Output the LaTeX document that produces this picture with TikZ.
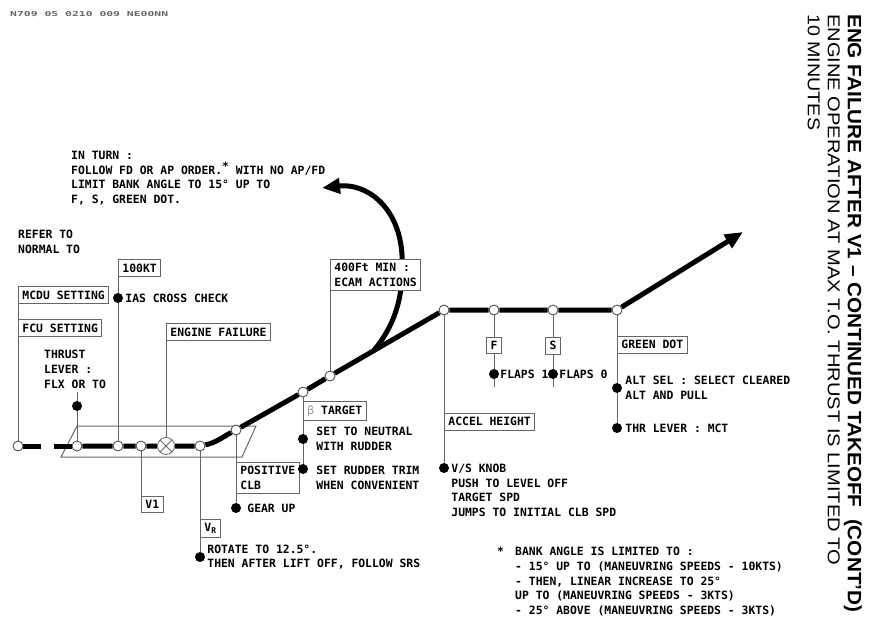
\documentclass[tikz,border=0pt]{standalone}
\usepackage{fontspec}
\setmonofont{DejaVu Sans Mono}
\setsansfont{Liberation Sans}
\usetikzlibrary{arrows.meta,positioning,backgrounds,calc}
\newcommand\fcom{\ttfamily\bfseries\fontsize{11.4}{14.7}\selectfont}

\begin{document}
\begin{tikzpicture}[x=1pt,y=-1pt,font=\fcom,
  wp/.style={circle,draw=black!75,fill=white,line width=0.8pt,inner sep=0,minimum size=10pt},
  bul/.style={circle,fill=black,inner sep=0,minimum size=10pt},
  b/.style={draw=black!60,fill=white,line width=0.9pt,inner xsep=4pt,inner ysep=4pt,align=left},
  tx/.style={inner sep=0,align=left},
  ld/.style={draw=black!60,line width=1pt},
  trk/.style={line width=5pt},
  arr/.style={-{Triangle[length=18pt,width=15pt]}}]
\useasboundingbox (0,0) rectangle (869,617);
% points on the flight path
\foreach \n/\x/\y in {c0/18/446,c1/77/446,c2/118/446,c3/141/446,c4/200/446,
  c5/236/430,c6/303/392,c7/330/376,c8/444/310,c9/494/310,c10/553/310,c11/617/310}
  \node[wp] (\n) at (\x,\y) {};
\node[wp,minimum size=17pt,draw=black!60,path picture={
  \draw[black!60] (path picture bounding box.north west)--(path picture bounding box.south east)
    (path picture bounding box.south west)--(path picture bounding box.north east);}] (ef) at (166,446) {};
\coordinate (end) at (743,232);
\coordinate (ttip) at (322,188);
\coordinate (tb) at ($(c7)!0.38!(c8)$);
% labels in boxes
\node[b,anchor=south west] (mcdu) at (18,304) {MCDU SETTING};
\node[b,anchor=south west] (fcu) at (18,337) {FCU SETTING};
\node[b,anchor=south west] (kt) at (118,277) {100KT};
\node[b,anchor=north west] (v1) at (141,496) {V1};
\node[b,anchor=south west] (efb) at (166,341) {ENGINE FAILURE};
\node[b,anchor=north west] (vr) at (200,519) {V\textsubscript{R}};
\node[b,anchor=north west] (clb) at (236,462) {POSITIVE\\CLB};
\node[b,anchor=north west] (beta) at (303,401) {{\mdseries\color{black!40}β} TARGET};
\node[b,anchor=south west] (ecam) at (330,291) {400Ft MIN :\\ECAM ACTIONS};
\node[b,anchor=north west] (accel) at (444,413) {ACCEL HEIGHT};
\node[b,anchor=north] (fbox) at (494,337) {F};
\node[b,anchor=north] (sbox) at (553,337) {S};
\node[b,anchor=north west] (gd) at (617,336) {GREEN DOT};
% action dots
\node[bul] (dthr) at (77,406) {};
\node[bul] (dias) at (118,298) {};
\node[bul] (drot) at (200,557) {};
\node[bul] (dgear) at (236,508) {};
\node[bul] (dneu) at (303,439) {};
\node[bul] (dtrim) at (303,469) {};
\node[bul] (dvs) at (444,468) {};
\node[bul] (df) at (494,374) {};
\node[bul] (ds) at (553,374) {};
\node[bul] (dalt) at (617,388) {};
\node[bul] (dthrl) at (617,428) {};
% texts
\node[tx,anchor=west,text=black!60] (hdr) at (10,14) {\resizebox{158pt}{5pt}{N709 05 0210 009 NE00NN}};
\node[tx,anchor=north west] (turn) at (71,151) {IN TURN :\\FOLLOW FD OR AP ORDER.\raisebox{4pt}{*} WITH NO AP/FD\\LIMIT BANK ANGLE TO 15° UP TO\\F, S, GREEN DOT.};
\node[tx,anchor=north west] (refer) at (18,230) {REFER TO\\NORMAL TO};
\node[tx,anchor=north west] (thr) at (44,350) {THRUST\\LEVER :\\FLX OR TO};
\node[tx,right=2pt of dias] {IAS CROSS CHECK};
\node[tx,right=2pt of drot] {ROTATE TO 12.5°.\\THEN AFTER LIFT OFF, FOLLOW SRS};
\node[tx,right=6pt of dgear] {GEAR UP};
\node[tx,right=8pt of dneu] {SET TO NEUTRAL\\WITH RUDDER};
\node[tx,anchor=north west] at ([xshift=8pt,yshift=3.2pt]dtrim.east) {SET RUDDER TRIM\\WHEN CONVENIENT};
\node[tx,anchor=north west] at ([xshift=2pt,yshift=4.2pt]dvs.east) {V/S KNOB\\PUSH TO LEVEL OFF\\TARGET SPD\\JUMPS TO INITIAL CLB SPD};
\node[tx,right=1pt of df] {FLAPS 1};
\node[tx,right=1pt of ds] {FLAPS 0};
\node[tx,right=3pt of dalt] {ALT SEL : SELECT CLEARED\\ALT AND PULL};
\node[tx,right=3pt of dthrl] {THR LEVER : MCT};
\node[tx,anchor=west] (star) at (497,551) {*};
\node[tx,anchor=north west] (bank) at (515,547) {BANK ANGLE IS LIMITED TO :\\- 15° UP TO (MANEUVRING SPEEDS - 10KTS)\\- THEN, LINEAR INCREASE TO 25°\\UP TO (MANEUVRING SPEEDS - 3KTS)\\- 25° ABOVE (MANEUVRING SPEEDS - 3KTS)};
% title
\node[tx,rotate=-90,anchor=north west] (ttl) at (862,14) {\resizebox{598pt}{14pt}{\sffamily\bfseries ENG FAILURE AFTER V1 – CONTINUED TAKEOFF\ \ (CONT'D)}};
\node[tx,rotate=-90,anchor=north west] (sub1) at (840,14) {\resizebox{551pt}{12pt}{\sffamily\mdseries ENGINE OPERATION AT MAX T.O. THRUST IS LIMITED TO}};
\node[tx,rotate=-90,anchor=north west] (sub2) at (820,14) {\resizebox{116pt}{12pt}{\sffamily\mdseries 10 MINUTES}};
\begin{scope}[on background layer]
\draw[ld] (61,457) -- (242,457) -- (256,426) -- (77,426) -- cycle;
\draw[trk,dash pattern=on 18pt off 13pt on 40pt] (c0) -- (c1);
\draw[trk] (c1) -- (c2) -- (c3) -- (ef) -- (c4) to[out=12,in=208] (c5) -- (c6) -- (c7) -- (c8) -- (c9) -- (c10) -- (c11);
\draw[trk,arr] (c11) -- (end);
\draw[trk,arr] (tb) .. controls (398,322) and (404,290) .. (402,255) .. controls (399,205) and (365,183) .. (ttip);
\draw[ld] (c0) -- (mcdu.south west);
\draw[ld] (c1) -- ([yshift=14pt]dthr.center);
\draw[ld] (c2) -- (kt.south west);
\draw[ld] (c3) -- (v1.north west);
\draw[ld] (ef) -- (efb.south west);
\draw[ld] (c4) -- (drot);
\draw[ld] (c5) -- (dgear);
\draw[ld] (c6) -- (dtrim);
\draw[ld] (c7) -- (ecam.south west);
\draw[ld] (c8) -- (dvs);
\draw[ld] (c9) -- ([yshift=-13pt]df.center);
\draw[ld] (c10) -- ([yshift=-13pt]ds.center);
\draw[ld] (c11) -- (dthrl);
\end{scope}
\end{tikzpicture}
\end{document}
